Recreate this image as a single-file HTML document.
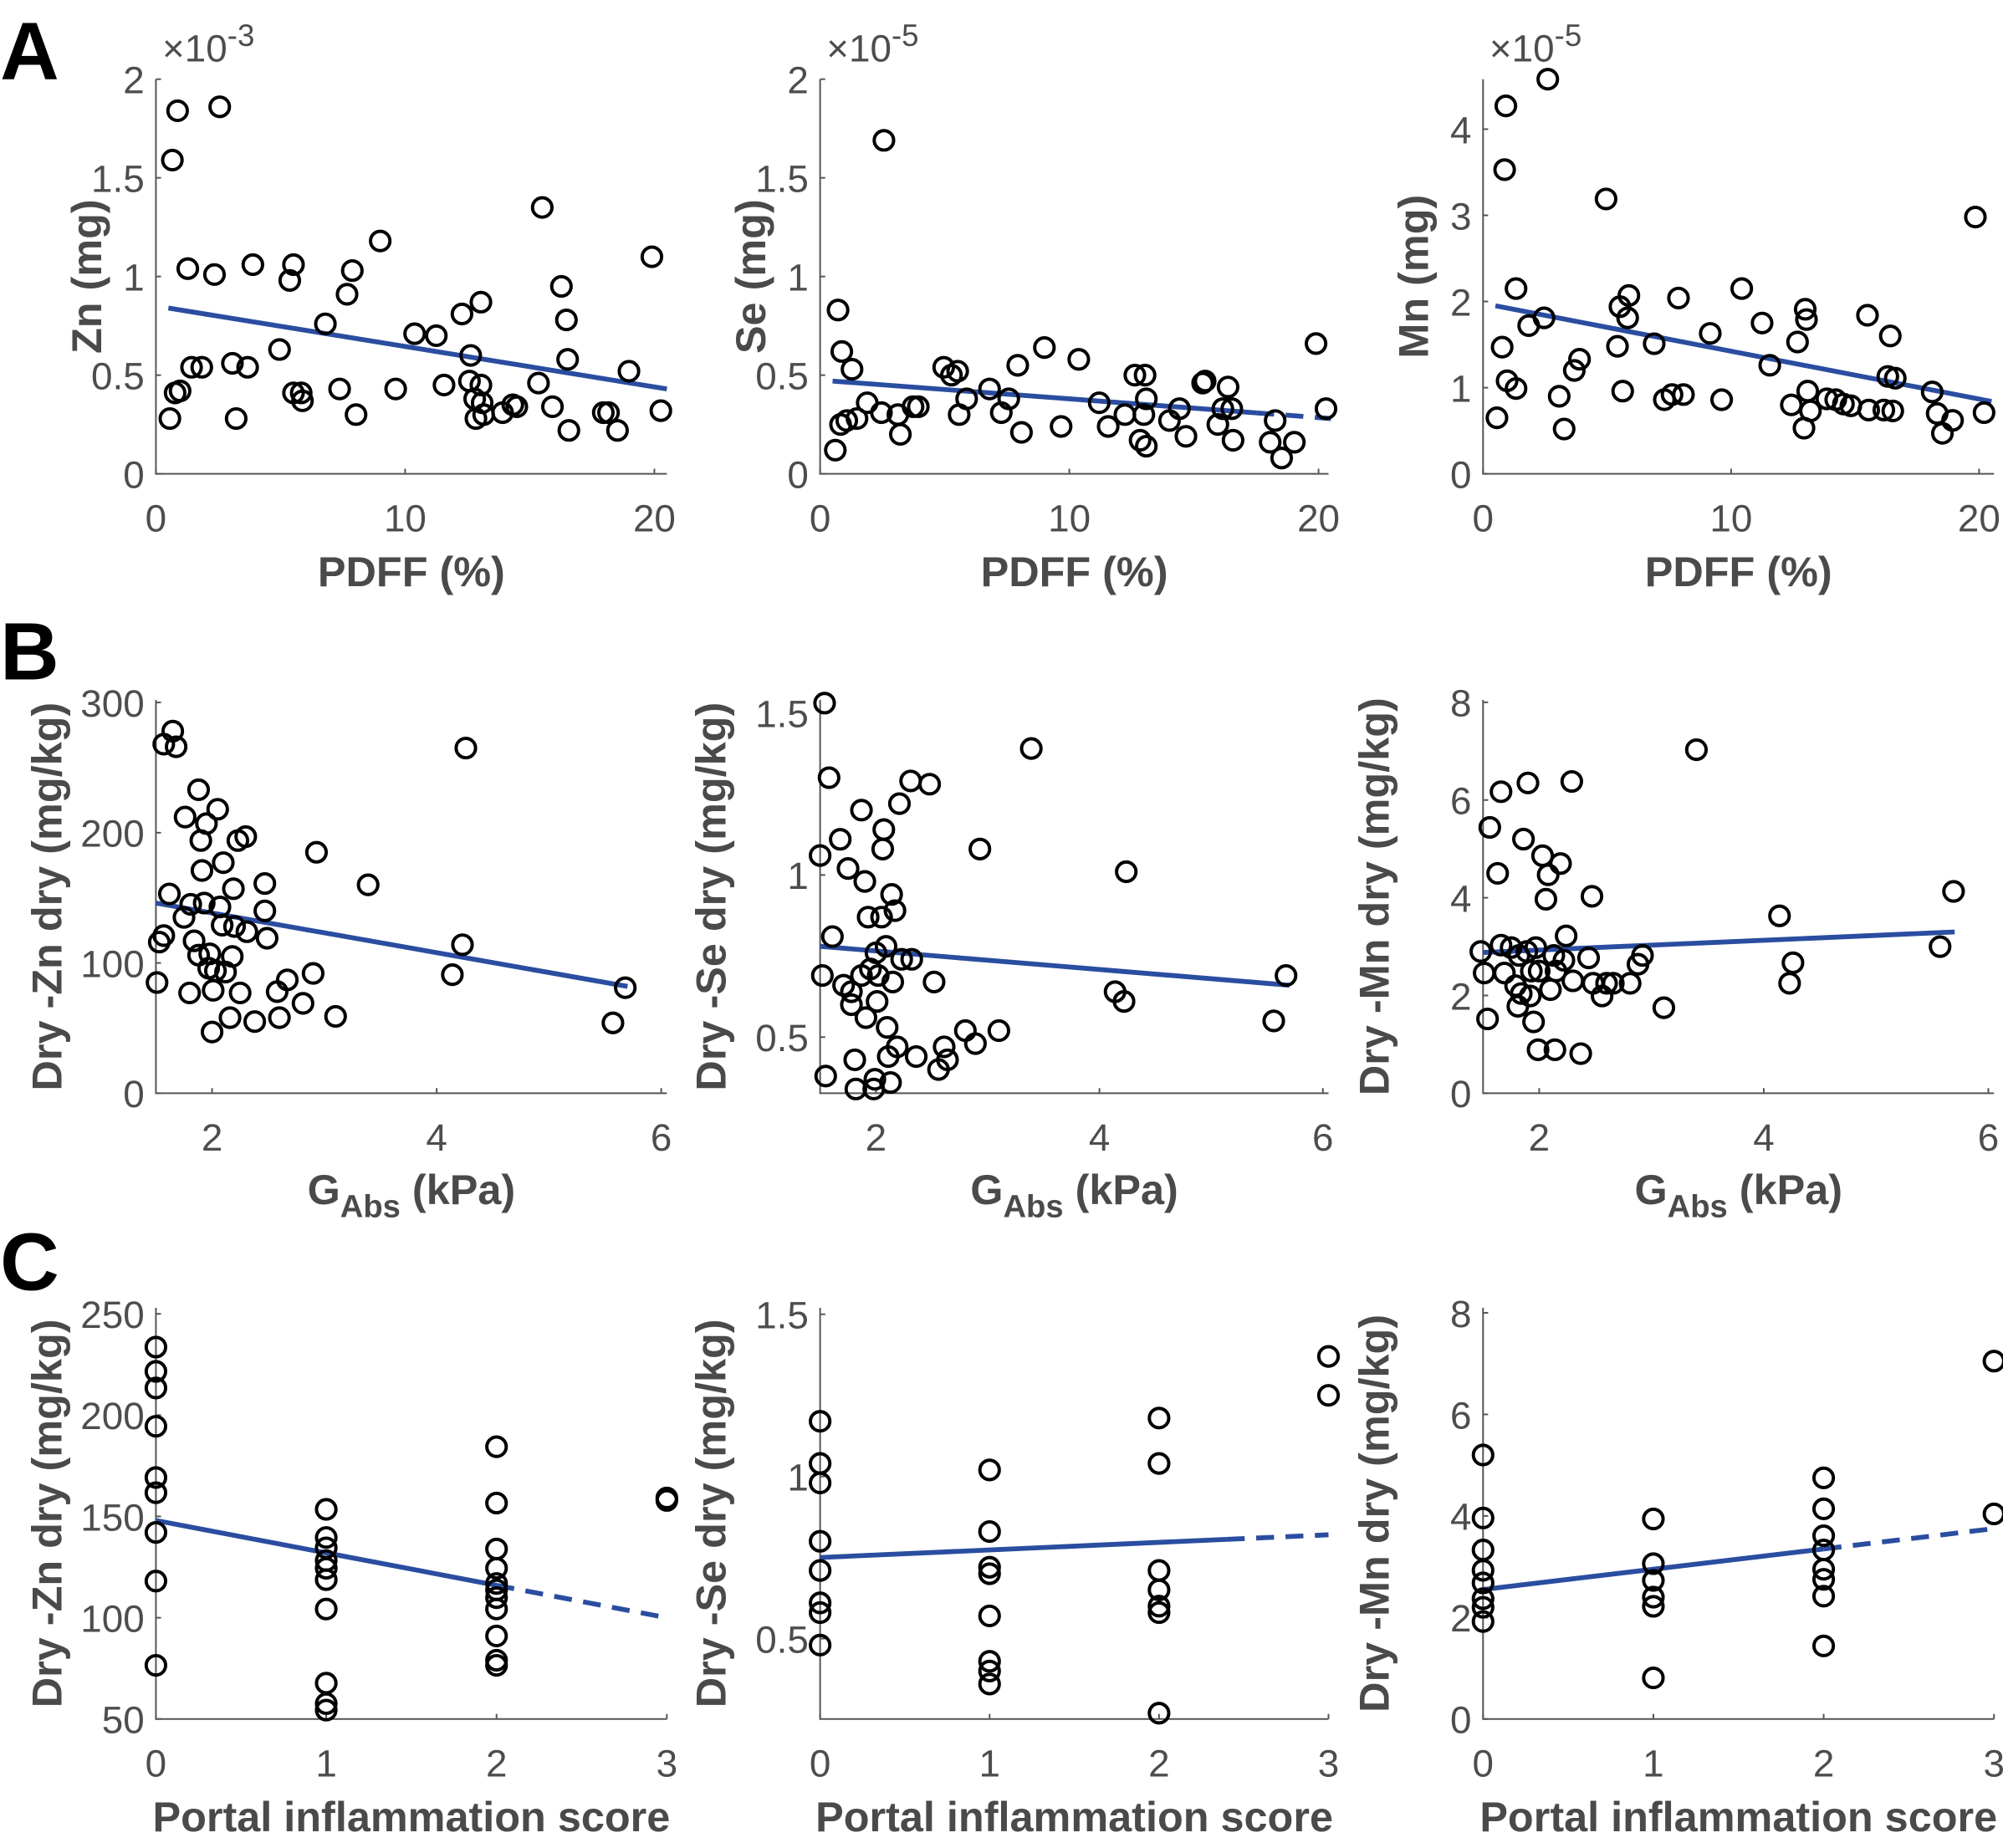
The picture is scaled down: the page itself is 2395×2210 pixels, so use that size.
<!DOCTYPE html>
<html><head><meta charset="utf-8">
<style>
html,body{margin:0;padding:0;background:#fff;}
svg{display:block;}
text{font-family:"Liberation Sans",Arial,sans-serif;}
.tick{fill:#4d4d4d;font-size:30px;}
.lab{fill:#4a4a4a;font-size:33px;font-weight:bold;}
.panel-letter{fill:#000;font-size:64px;font-weight:bold;}
</style></head>
<body>
<svg id="fig" width="2395" height="2210" viewBox="0 0 1568 1447" xmlns="http://www.w3.org/2000/svg">
<text class="panel-letter" x="0" y="62">A</text>
<text class="panel-letter" x="0" y="532">B</text>
<text class="panel-letter" x="0" y="1010">C</text>
</svg>
<script>
// ---- data ----
const a1X=[0.56,0.77,0.97,0.66,0.87,1.28,1.43,1.84,2.56,2.35,3.07,3.22,3.68,3.89,4.96,5.37,5.52,5.52,5.83,5.88,6.80,7.37,7.67,7.88,8.03,9.0,9.62,10.38,11.25,11.56,12.28,12.58,12.63,12.79,13.04,13.04,13.09,13.15,12.84,13.91,14.32,14.48,15.35,15.5,15.91,16.27,16.47,16.52,16.57,17.95,18.16,18.52,18.98,19.9,20.26];
const a1Y=[0.28,0.41,0.42,1.59,1.84,1.04,0.54,0.54,1.86,1.01,0.56,0.28,0.54,1.06,0.63,0.98,1.06,0.41,0.41,0.37,0.76,0.43,0.91,1.03,0.30,1.18,0.43,0.71,0.70,0.45,0.81,0.47,0.60,0.38,0.87,0.45,0.36,0.30,0.28,0.31,0.35,0.34,0.46,1.35,0.34,0.95,0.78,0.58,0.22,0.31,0.31,0.22,0.52,1.10,0.32];
const a1FitX=[0.5,20.5], a1FitY=[0.84,0.43];
const a2X=[0.61,0.72,0.82,0.87,1.28,1.07,1.48,1.89,2.46,2.56,3.12,3.22,3.73,3.94,4.96,5.27,5.52,5.58,5.88,6.8,7.27,7.57,7.93,8.08,9.0,9.67,10.38,11.2,11.56,12.23,12.63,12.84,12.99,13.04,13.09,13.09,14.02,14.42,14.68,15.35,15.45,15.96,16.16,16.37,16.52,16.57,18.06,18.26,18.52,19.03,19.9,20.3];
const a2Y=[0.12,0.83,0.25,0.62,0.53,0.27,0.28,0.36,0.31,1.69,0.30,0.20,0.34,0.34,0.54,0.50,0.52,0.30,0.38,0.43,0.31,0.38,0.55,0.21,0.64,0.24,0.58,0.36,0.24,0.30,0.50,0.17,0.30,0.50,0.38,0.14,0.27,0.33,0.19,0.46,0.47,0.25,0.33,0.44,0.33,0.17,0.16,0.27,0.08,0.16,0.66,0.33];
const a2FitX=[0.5,17.5,20.5], a2FitY=[0.47,0.309,0.28];
const a3X=[0.56,0.77,0.87,0.92,0.97,1.33,1.33,1.84,2.46,2.61,3.07,3.27,3.68,3.89,4.96,5.42,5.52,5.63,5.83,5.88,6.9,7.31,7.62,7.88,8.08,9.16,9.62,10.43,11.25,11.56,12.43,12.68,12.99,13.04,13.09,13.2,12.94,13.86,14.22,14.53,14.83,15.5,15.55,16.16,16.32,16.42,16.52,16.62,18.11,18.31,18.52,18.93,19.85,20.2];
const a3Y=[0.65,1.47,3.53,4.27,1.08,2.15,0.99,1.72,1.81,4.58,0.90,0.52,1.2,1.33,3.19,1.48,1.94,0.96,1.81,2.07,1.51,0.86,0.92,2.04,0.92,1.63,0.86,2.15,1.75,1.26,0.80,1.53,1.91,1.79,0.96,0.73,0.53,0.87,0.86,0.81,0.79,1.84,0.74,0.74,1.13,1.6,0.73,1.11,0.95,0.70,0.47,0.62,2.98,0.71];
const a3FitX=[0.5,20.5], a3FitY=[1.95,0.84];
const b1X=[1.51,1.53,1.57,1.57,1.65,1.68,1.62,1.75,1.76,1.81,1.80,1.84,1.88,1.90,1.88,1.91,1.93,1.95,1.97,1.98,2.0,2.01,2.03,2.05,2.07,2.09,2.10,2.12,2.16,2.18,2.19,2.2,2.23,2.25,2.3,2.31,2.38,2.47,2.47,2.49,2.58,2.6,2.67,2.81,2.9,2.93,3.1,3.39,4.14,4.23,4.26,5.57,5.68];
const b1Y=[85,116,121,268,278,266,153,135,212,145,77,117,233,194,106,171,146,207,96,107,47,79,94,218,143,129,177,93,58,105,157,128,194,77,197,124,55,161,140,119,78,58,87,69,92,185,59,160,91,114,265,54,81];
const b1FitX=[1.5,5.7], b1FitY=[146,82];
const b2X=[1.5,1.54,1.52,1.55,1.61,1.68,1.71,1.75,1.78,1.78,1.81,1.82,1.87,1.87,1.91,1.9,1.93,1.95,1.98,1.99,2.0,2.01,2.02,2.05,2.06,2.07,2.09,2.1,2.11,2.13,2.14,2.15,2.17,2.19,2.21,2.23,2.31,2.32,2.36,2.48,2.52,2.56,2.61,2.64,2.8,2.89,2.93,3.1,3.39,4.14,4.22,4.24,5.56,5.67,1.58];
const b2Y=[1.06,1.53,0.69,0.38,0.81,1.11,0.66,1.02,0.64,0.60,0.43,0.34,0.69,1.20,0.56,0.98,0.87,0.71,0.34,0.37,0.76,0.61,0.69,0.87,1.08,1.14,0.78,0.53,0.44,0.36,0.94,0.67,0.89,0.47,1.22,0.74,1.29,0.74,0.44,1.28,0.67,0.40,0.47,0.43,0.52,0.48,1.08,0.52,1.39,0.64,0.61,1.01,0.55,0.69,1.30];
const b2FitX=[1.5,5.7], b2FitY=[0.78,0.66];
const b3X=[1.48,1.51,1.54,1.56,1.63,1.66,1.66,1.69,1.75,1.79,1.81,1.82,1.84,1.86,1.9,1.89,1.92,1.93,1.95,1.97,1.99,2.0,2.03,2.06,2.08,2.1,2.13,2.14,2.15,2.19,2.22,2.24,2.29,2.3,2.37,2.44,2.47,2.48,2.56,2.6,2.66,2.81,2.88,2.92,3.11,3.4,4.14,4.23,4.26,5.57,5.69];
const b3Y=[2.9,2.46,1.52,5.44,4.5,6.17,3.03,2.46,2.98,2.2,1.78,2.82,2.04,5.2,6.35,2.9,1.99,2.5,1.46,2.98,0.89,2.5,4.86,3.97,4.47,2.12,2.82,0.89,2.5,4.7,2.72,3.22,6.38,2.3,0.81,2.77,4.03,2.25,1.99,2.25,2.25,2.25,2.64,2.82,1.75,7.03,3.63,2.25,2.67,3.0,4.13];
const b3FitX=[1.5,5.7], b3FitY=[2.88,3.3];
const c1X=[0,0,0,0,0,0,0,0,0,1,1,1,1,1,1,1,1,1,1,2,2,2,2,2,2,2,2,2,2,2,3,3];
const c1Y=[233.6,221.6,213.4,194.5,169.2,161.7,142.1,118.1,76.5,153.5,139.6,134.5,128.2,124.4,118.8,104.3,67.7,57.6,54.4,184.4,156.6,133.9,124.4,113.7,109.9,104.3,91.0,79.0,76.5,116.9,159.1,157.9];
const c1FitX=[0,2,3], c1FitY=[148,116,100];
const c2X=[0,0,0,0,0,0,0,0,1,1,1,1,1,1,1,1,2,2,2,2,2,2,2,3,3];
const c2Y=[1.17,1.04,0.98,0.80,0.71,0.61,0.58,0.48,1.02,0.83,0.72,0.70,0.57,0.43,0.40,0.36,1.18,1.04,0.71,0.65,0.60,0.58,0.27,1.37,1.25];
const c2FitX=[0,2.4,3], c2FitY=[0.75,0.806,0.82];
const c3X=[0,0,0,0,0,0,0,0,1,1,1,1,1,1,2,2,2,2,2,2,2,2,3,3];
const c3Y=[5.2,3.96,3.33,2.93,2.68,2.37,1.92,2.2,3.94,3.06,2.73,2.4,2.22,0.81,4.75,4.14,3.61,3.33,2.75,2.42,1.44,2.95,7.05,4.04];
const c3FitX=[0,2,3], c3FitY=[2.55,3.35,3.75];

// tick labels
const ticksA12=[0,0.5,1,1.5,2], ticksA3=[0,1,2,3,4], ticksPDFF=[0,10,20];
const ticksB1=[0,100,200,300], ticksB2=[0.5,1,1.5], ticksB3=[0,2,4,6,8], ticksG=[2,4,6];
const ticksC1=[50,100,150,200,250], ticksC2=[0.5,1,1.5], ticksC3=[0,2,4,6,8], ticksScore=[0,1,2,3];

// ---- layout ----
const NS="http://www.w3.org/2000/svg";
const svg=document.getElementById('fig');
const cols=[[122,522],[642,1040],[1161,1561]];
const rows={A:[62,371],B:[548,856],C:[1024,1346]};
function mk(tag,attrs,parent){const e=document.createElementNS(NS,tag);for(const k in attrs)e.setAttribute(k,attrs[k]);(parent||svg).appendChild(e);return e;}

const panels=[
 {id:'a1',col:0,row:'A',xlim:[0,20.5],ylim:[0,2],xt:ticksPDFF,yt:ticksA12,x:a1X,y:a1Y,fx:a1FitX,fy:a1FitY,xl:'PDFF (%)',yl:'Zn (mg)',exp:'-3',dashFrom:99},
 {id:'a2',col:1,row:'A',xlim:[0,20.4],ylim:[0,2],xt:ticksPDFF,yt:ticksA12,x:a2X,y:a2Y,fx:a2FitX,fy:a2FitY,xl:'PDFF (%)',yl:'Se (mg)',exp:'-5',dashFrom:1},
 {id:'a3',col:2,row:'A',xlim:[0,20.6],ylim:[0,4.58],xt:ticksPDFF,yt:ticksA3,x:a3X,y:a3Y,fx:a3FitX,fy:a3FitY,xl:'PDFF (%)',yl:'Mn (mg)',exp:'-5',dashFrom:99},
 {id:'b1',col:0,row:'B',xlim:[1.5,6.05],ylim:[0,302],xt:ticksG,yt:ticksB1,x:b1X,y:b1Y,fx:b1FitX,fy:b1FitY,xl:'G',sub:'Abs',yl:'Dry -Zn dry (mg/kg)',dashFrom:99},
 {id:'b2',col:1,row:'B',xlim:[1.5,6.05],ylim:[0.327,1.54],xt:ticksG,yt:ticksB2,x:b2X,y:b2Y,fx:b2FitX,fy:b2FitY,xl:'G',sub:'Abs',yl:'Dry -Se dry (mg/kg)',dashFrom:99},
 {id:'b3',col:2,row:'B',xlim:[1.5,6.05],ylim:[0,8.05],xt:ticksG,yt:ticksB3,x:b3X,y:b3Y,fx:b3FitX,fy:b3FitY,xl:'G',sub:'Abs',yl:'Dry -Mn dry (mg/kg)',dashFrom:99},
 {id:'c1',col:0,row:'C',xlim:[0,3],ylim:[50,253],xt:ticksScore,yt:ticksC1,x:c1X,y:c1Y,fx:c1FitX,fy:c1FitY,xl:'Portal inflammation score',yl:'Dry -Zn dry (mg/kg)',dashFrom:1},
 {id:'c2',col:1,row:'C',xlim:[0,3],ylim:[0.252,1.52],xt:ticksScore,yt:ticksC2,x:c2X,y:c2Y,fx:c2FitX,fy:c2FitY,xl:'Portal inflammation score',yl:'Dry -Se dry (mg/kg)',dashFrom:1},
 {id:'c3',col:2,row:'C',xlim:[0,3],ylim:[0,8.1],xt:ticksScore,yt:ticksC3,x:c3X,y:c3Y,fx:c3FitX,fy:c3FitY,xl:'Portal inflammation score',yl:'Dry -Mn dry (mg/kg)',dashFrom:1}
];

panels.forEach(p=>{
  const [L,R]=cols[p.col], [T,B]=rows[p.row];
  const sx=v=>L+(v-p.xlim[0])/(p.xlim[1]-p.xlim[0])*(R-L);
  const sy=v=>B-(v-p.ylim[0])/(p.ylim[1]-p.ylim[0])*(B-T);
  const g=mk('g',{});
  
  
  const ax=mk('path',{d:`M${L},${T}V${B}H${R}`,fill:'none',stroke:'#555','stroke-width':1.3},g);
  
  
  p.yt.forEach(t=>{
    const y=sy(t);
    mk('line',{x1:L,x2:L+4,y1:y,y2:y,stroke:'#555','stroke-width':1.3},g);
    const tx=mk('text',{x:L-9,y:y+11,'text-anchor':'end',class:'tick'},g);
    tx.textContent=String(t);
    
    
  });
  p.xt.forEach(t=>{
    const x=sx(t);
    mk('line',{x1:x,x2:x,y1:B,y2:B-4,stroke:'#555','stroke-width':1.3},g);
    const tx=mk('text',{x:x,y:B+45,'text-anchor':'middle',class:'tick'},g);
    tx.textContent=String(t);
    
    
  });
  if(p.exp){
    const e=mk('text',{x:L+5,y:T-14,class:'tick','font-size':'31'},g);
    e.innerHTML='\u00d710<tspan dy="-12" font-size="24">'+p.exp+'</tspan>';
    
    
  }
  const cx=(L+R)/2;
  const xl=mk('text',{x:cx,y:B+88,'text-anchor':'middle',class:'lab'},g);
  if(p.sub){xl.innerHTML='G<tspan dy="10" font-size="25">Abs</tspan><tspan dy="-10"> (kPa)</tspan>';xl.setAttribute('y',B+87);}
  else xl.textContent=p.xl;
  
  
  const yl=mk('text',{x:0,y:0,'text-anchor':'middle',class:'lab',transform:`translate(${L-(p.row==='A'?43:74)},${(T+B)/2}) rotate(-90)`},g);
  yl.textContent=p.yl;
  
  
  const fx=p.fx, fy=p.fy;
  for(let i=0;i<fx.length-1;i++){
    const seg=mk('line',{x1:sx(fx[i]),y1:sy(fy[i]),x2:sx(fx[i+1]),y2:sy(fy[i+1]),stroke:'#2a4da0','stroke-width':3.8},g);
    if(i>=p.dashFrom) seg.setAttribute('stroke-dasharray','14 9');
    
    
  }
  p.x.forEach((xv,i)=>{
    const c=mk('circle',{cx:sx(xv),cy:sy(p.y[i]),r:7.6,fill:'none',stroke:'#000','stroke-width':2.6},g);
    
    
  });
});
</script>
</body></html>
